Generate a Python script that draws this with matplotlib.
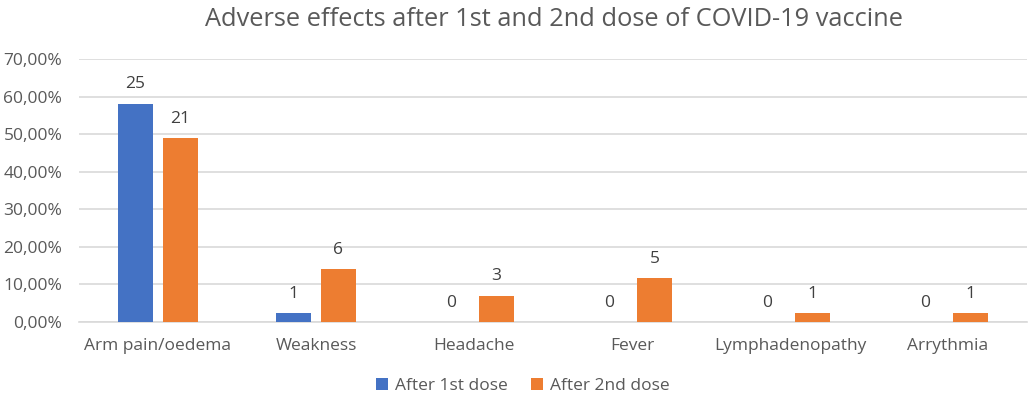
import numpy as np
import matplotlib.pyplot as plt
from matplotlib.ticker import FuncFormatter

categories = ['Arm pain/oedema', 'Weakness', 'Headache', 'Fever', 'Lymphadenopathy', 'Arrythmia']
first_counts = [25, 1, 0, 0, 0, 0]
second_counts = [21, 6, 3, 5, 1, 1]
first_pct = [58.14, 2.33, 0.0, 0.0, 0.0, 0.0]
second_pct = [48.84, 13.95, 6.98, 11.63, 2.33, 2.33]
series_names = ['After 1st dose', 'After 2nd dose']

plt.rcParams['font.family'] = ['Open Sans', 'DejaVu Sans']
text_col = '#595959'

fig = plt.figure(figsize=(10.29, 3.99), dpi=100)
ax = fig.add_axes([79 / 1029, 1 - 321.7 / 399, (1027 - 79) / 1029, (321.7 - 59) / 399])

x = np.arange(len(categories))
w = 0.222
off = 0.142
b1 = ax.bar(x - off, first_pct, w, color='#4472C4', label=series_names[0], zorder=3)
b2 = ax.bar(x + off, second_pct, w, color='#ED7D31', label=series_names[1], zorder=3)

for bars, counts in ((b1, first_counts), (b2, second_counts)):
    for b, c in zip(bars, counts):
        ax.annotate(str(c), (b.get_x() + b.get_width() / 2, b.get_height()),
                    xytext=(0, 8), textcoords='offset points', ha='center', va='bottom',
                    fontsize=12.5, color='#404040')

ax.set_xlim(-0.5, len(categories) - 0.5)
ax.set_ylim(0, 70)
ax.set_yticks(np.arange(0, 71, 10))
ax.yaxis.set_major_formatter(FuncFormatter(lambda v, p: f'{v:.2f}%'.replace('.', ',')))
ax.set_xticks(x)
ax.set_xticklabels(categories)
ax.tick_params(axis='both', length=0, labelsize=12.5, labelcolor=text_col)
ax.tick_params(axis='x', pad=12)
ax.tick_params(axis='y', pad=12)
ax.grid(axis='y', color='#d9d9d9', linewidth=1.2, zorder=0)
for s in ['top', 'right', 'left']:
    ax.spines[s].set_visible(False)
ax.spines['bottom'].set_color('#d9d9d9')
ax.spines['bottom'].set_linewidth(1.2)

fig.text(0.538, 0.95, 'Adverse effects after 1st and 2nd dose of COVID-19 vaccine',
         ha='center', va='center', fontsize=18.3, color=text_col)
fig.legend(loc='center', bbox_to_anchor=(0.508, 0.033), ncol=2, frameon=False,
           fontsize=12.5, labelcolor=text_col, handlelength=0.7, handleheight=0.7,
           handletextpad=0.4, columnspacing=1.35)

fig.savefig('out.png', dpi=100)
